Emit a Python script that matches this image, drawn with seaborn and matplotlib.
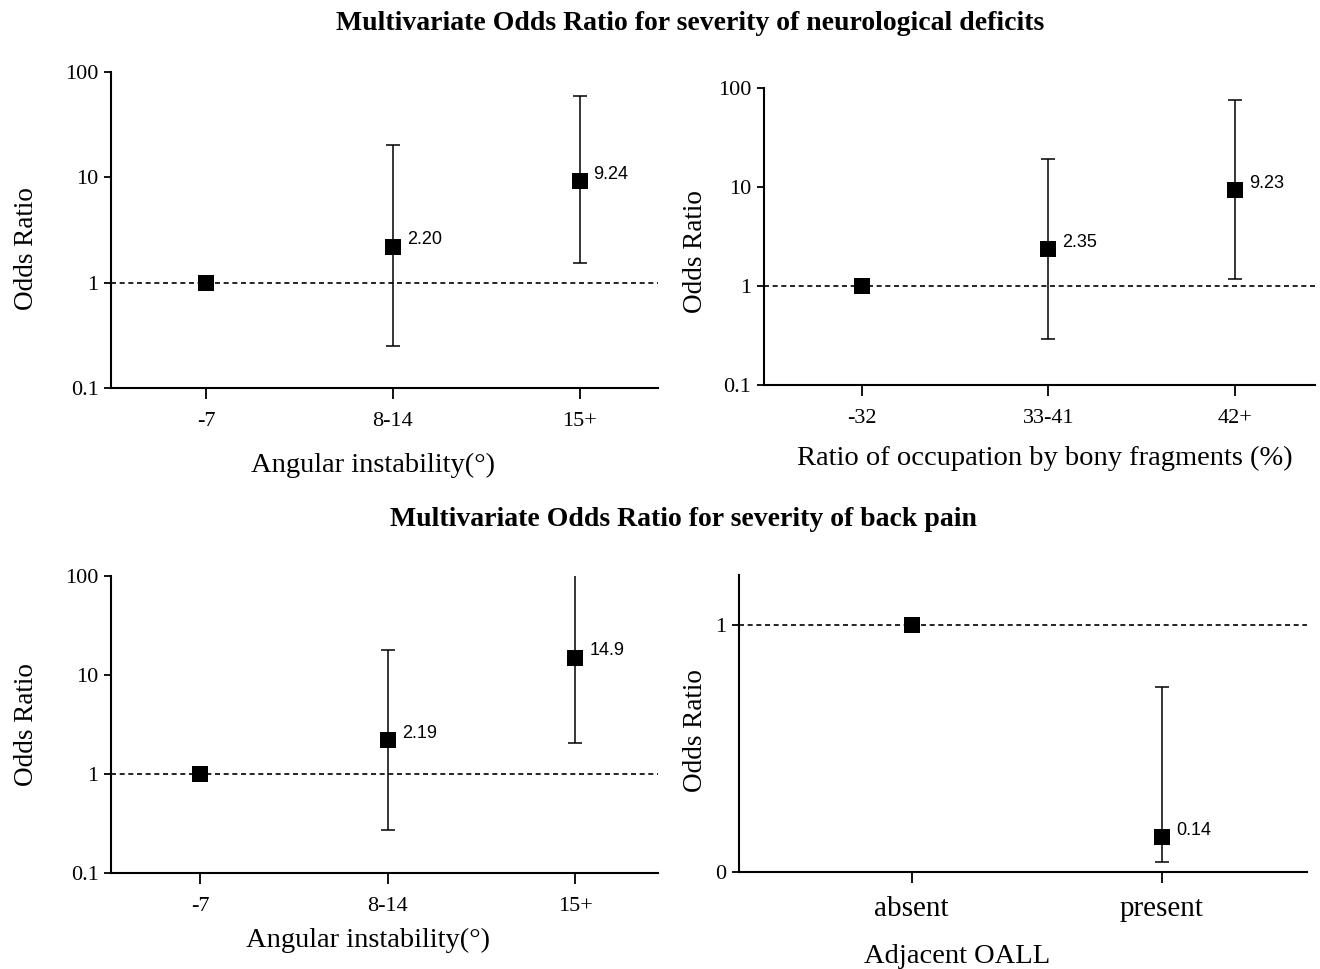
import numpy as np
import pandas as pd
import matplotlib
matplotlib.use("Agg")
import matplotlib.pyplot as plt
import seaborn as sns

# ---- data ----
title_top = "Multivariate Odds Ratio for severity of neurological deficits"
title_bottom = "Multivariate Odds Ratio for severity of back pain"

angular_cats = ["-7", "8-14", "15+"]
neuro_angular_or = [1.0, 2.20, 9.24]
neuro_angular_lo = [np.nan, 0.25, 1.55]
neuro_angular_hi = [np.nan, 20.3, 59.0]
neuro_angular_lbl = ["", "2.20", "9.24"]

bony_cats = ["-32", "33-41", "42+"]
neuro_bony_or = [1.0, 2.35, 9.23]
neuro_bony_lo = [np.nan, 0.29, 1.18]
neuro_bony_hi = [np.nan, 19.2, 75.5]
neuro_bony_lbl = ["", "2.35", "9.23"]

pain_angular_or = [1.0, 2.19, 14.9]
pain_angular_lo = [np.nan, 0.27, 2.06]
pain_angular_hi = [np.nan, 17.8, 107.0]
pain_angular_lbl = ["", "2.19", "14.9"]

oall_cats = ["absent", "present"]
pain_oall_or = [1.0, 0.14]
pain_oall_lo = [np.nan, 0.04]
pain_oall_hi = [np.nan, 0.746]
pain_oall_lbl = ["", "0.14"]

sns.set_theme(style="white")
plt.rcParams["font.family"] = ["Liberation Serif", "DejaVu Serif"]
plt.rcParams["text.color"] = "black"
plt.rcParams["axes.labelcolor"] = "black"
plt.rcParams["xtick.color"] = "black"
plt.rcParams["ytick.color"] = "black"

fig = plt.figure(figsize=(13.2, 9.69), dpi=100)

W, H = 1320, 969
def axes_px(left, right, top, bottom):
    return fig.add_axes([left / W, (H - bottom) / H, (right - left) / W, (bottom - top) / H])

def panel(ax, cats, orv, lo, hi, lbl, xlabel, xlim, xlab_xy, ylab_xy,
          log=True, ylim=None, xticksize=16):
    df = pd.DataFrame({"x": np.arange(len(cats)), "or": orv, "lo": lo, "hi": hi, "lbl": lbl})
    ax.axhline(1, color="black", lw=1.2, ls=(0, (3, 2.2)), zorder=1)
    sub = df.dropna()
    ax.errorbar(sub["x"], sub["or"],
                yerr=[sub["or"] - sub["lo"], sub["hi"] - sub["or"]],
                fmt="none", ecolor="black", elinewidth=1.1, capsize=5, capthick=1.1,
                zorder=2, clip_on=True)
    sns.scatterplot(data=df, x="x", y="or", marker="s", s=120, color="black",
                    edgecolor="black", linewidth=0, ax=ax, zorder=3, legend=False)
    for _, r in df.iterrows():
        if r["lbl"]:
            ax.annotate(r["lbl"], (r["x"], r["or"]), xytext=(10, 5),
                        textcoords="offset points", ha="left", va="center",
                        fontsize=13, color="black",
                        family=["Liberation Sans Narrow", "Liberation Sans", "DejaVu Sans"])
    if log:
        ax.set_yscale("log")
        ax.set_ylim(0.1, 100)
        ax.set_yticks([0.1, 1, 10, 100])
        ax.set_yticklabels(["0.1", "1", "10", "100"])
        ax.minorticks_off()
    else:
        ax.set_ylim(*ylim)
        ax.set_yticks([0, 1])
        ax.set_yticklabels(["0", "1"])
    ax.set_xlim(*xlim)
    ax.set_xticks(np.arange(len(cats)))
    ax.set_xticklabels(cats)
    ax.set_xlabel(xlabel, fontsize=20.5, ha="center", va="center")
    ax.set_ylabel("Odds Ratio", fontsize=19.5, ha="center", va="center")
    ax.xaxis.set_label_coords(*xlab_xy)
    ax.yaxis.set_label_coords(*ylab_xy)
    for s in ["top", "right"]:
        ax.spines[s].set_visible(False)
    for s in ["left", "bottom"]:
        ax.spines[s].set_color("black")
        ax.spines[s].set_linewidth(1.5)
    ax.tick_params(axis="x", direction="out", length=8, width=1.3, color="black",
                   labelsize=xticksize, pad=9, bottom=True)
    ax.tick_params(axis="y", direction="out", length=5, width=1.3, color="black",
                   labelsize=16, pad=4, left=True)
    ax.set_facecolor("white")

ax1 = axes_px(111, 658, 72, 388)
panel(ax1, angular_cats, neuro_angular_or, neuro_angular_lo, neuro_angular_hi,
      neuro_angular_lbl, "Angular instability(°)", (-0.51, 2.42),
      (0.479, -0.244), (-0.154, 0.44))

ax2 = axes_px(764, 1315, 88, 385)
panel(ax2, bony_cats, neuro_bony_or, neuro_bony_lo, neuro_bony_hi,
      neuro_bony_lbl, "Ratio of occupation by bony fragments (%)", (-0.525, 2.43),
      (0.51, -0.246), (-0.125, 0.45))

ax3 = axes_px(111, 658, 576, 873)
panel(ax3, angular_cats, pain_angular_or, pain_angular_lo, pain_angular_hi,
      pain_angular_lbl, "Angular instability(°)", (-0.475, 2.44),
      (0.47, -0.226), (-0.154, 0.5))

ax4 = axes_px(739, 1307, 575, 872)
panel(ax4, oall_cats, pain_oall_or, pain_oall_lo, pain_oall_hi,
      pain_oall_lbl, "Adjacent OALL", (-0.69, 1.58),
      (0.384, -0.286), (-0.077, 0.475), log=False, ylim=(0, 1.2), xticksize=21)

fig.text(690 / W, 1 - 24 / H, title_top, ha="center", va="center",
         fontsize=20, fontweight="bold", color="black")
fig.text(683 / W, 1 - 520 / H, title_bottom, ha="center", va="center",
         fontsize=20, fontweight="bold", color="black")

fig.savefig("out.png", dpi=100, facecolor="white")
